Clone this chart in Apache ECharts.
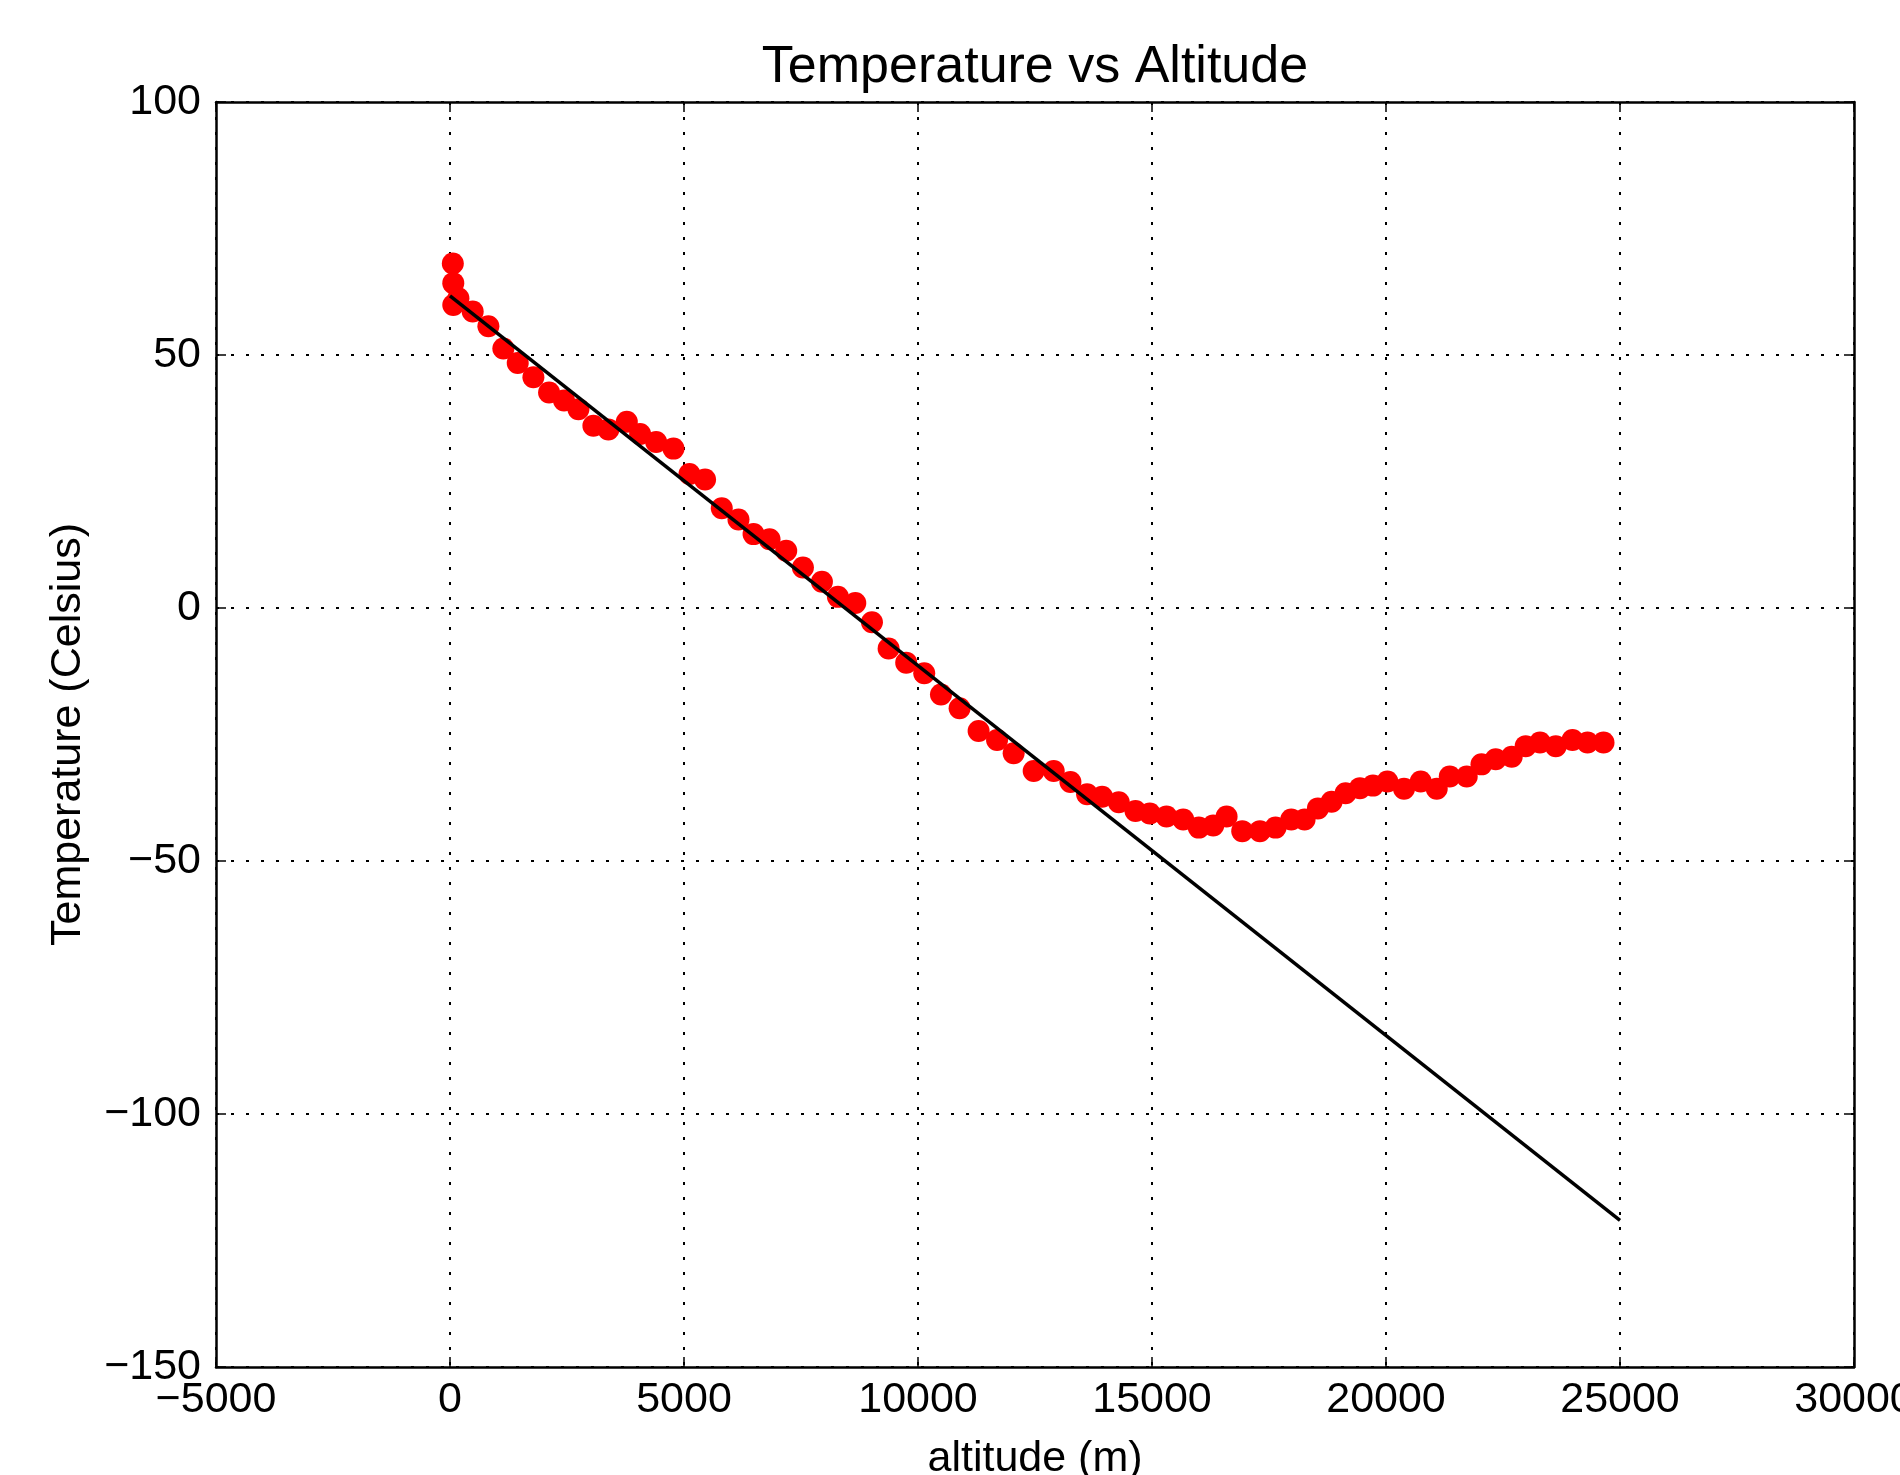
<!DOCTYPE html>
<html>
<head>
<meta charset="utf-8">
<title>Temperature vs Altitude</title>
<script src="https://cdn.jsdelivr.net/npm/echarts@6/dist/echarts.min.js"></script>
<style>
  html, body { margin: 0; padding: 0; background: #fff; }
  #chart { width: 1900px; height: 1475px; }
</style>
</head>
<body>
<div id="chart"></div>
<script>
// measured points (altitude in m, temperature in Celsius)
const altitude = [60, 70, 180, 70, 485, 820, 1140, 1447, 1782, 2117, 2437, 2744, 3064, 3384, 3778, 4062,
  4405, 4775, 5117, 5450, 5807, 6164, 6486, 6828, 7184, 7541, 7947, 8289, 8660, 9016, 9372, 9748,
  10133, 10491, 10889, 11295, 11689, 12044, 12472, 12900, 13257, 13613, 13934, 14290, 14647, 14953,
  15310, 15667, 16000, 16308, 16594, 16928, 17306, 17640, 17975, 18260, 18545, 18837, 19136, 19443,
  19721, 20029, 20385, 20742, 21084, 21362, 21725, 22040, 22344, 22686, 22985, 23291, 23628, 23985,
  24306, 24648]
const temperature = [68.1, 64.2, 61.2, 59.9, 58.6, 55.7, 51.3, 48.4, 45.6, 42.6, 41.0, 39.3, 36.0, 35.3, 36.8, 34.4,
  32.8, 31.5, 26.5, 25.4, 19.7, 17.5, 14.6, 13.6, 11.3, 8.0, 5.2, 2.2, 1.0, -2.8, -8.0, -10.8,
  -12.9, -17.1, -19.8, -24.3, -26.1, -28.7, -32.2, -32.2, -34.4, -36.8, -37.3, -38.4, -40.1, -40.6,
  -41.2, -41.8, -43.4, -43.0, -41.2, -44.1, -44.1, -43.4, -41.8, -41.8, -39.6, -38.3, -36.6, -35.6,
  -35.1, -34.3, -35.7, -34.3, -35.7, -33.3, -33.3, -30.9, -29.9, -29.4, -27.3, -26.6, -27.3, -26.1,
  -26.6, -26.6]
// linear fit endpoints
const fitX = [0, 25000]
const fitY = [61.7, -121]

const font = 'Liberation Sans, Arial, sans-serif'
const minus = v => String(v).replace('-', '\u2212')

let chart = echarts.init(document.getElementById('chart'))

let pts = altitude.map((a, i) => [a, temperature[i]])
let fit = fitX.map((a, i) => [a, fitY[i]])

let tickStyle = { show: true, inside: true, length: 10, lineStyle: { color: '#000', width: 1.5 } }
let gridLine = { show: true, lineStyle: { color: '#000', width: 2, type: [3, 12] } }
let axisLine = { show: true, onZero: false, lineStyle: { color: '#000', width: 2.5 } }

chart.setOption({
  animation: false,
  backgroundColor: '#fff',
  title: {
    text: 'Temperature vs Altitude',
    left: 1035,
    top: 42,
    padding: 0,
    textAlign: 'center',
    textStyle: { fontFamily: font, fontSize: 52, fontWeight: 'normal', color: '#000' }
  },
  grid: { left: 216, right: 46, top: 102, bottom: 108, containLabel: false, outerBoundsMode: 'none' },
  xAxis: [{
    type: 'value',
    min: -5000,
    max: 30000,
    interval: 5000,
    name: 'altitude (m)',
    nameLocation: 'middle',
    nameGap: 71,
    nameTextStyle: { fontFamily: font, fontSize: 43, color: '#000' },
    axisLine: axisLine,
    axisTick: tickStyle,
    splitLine: gridLine,
    axisLabel: { fontFamily: font, fontSize: 43, color: '#000', margin: 12, showMaxLabel: true, showMinLabel: true, formatter: minus }
  }, {
    type: 'value',
    position: 'top',
    min: -5000,
    max: 30000,
    interval: 5000,
    axisLine: axisLine,
    axisTick: tickStyle,
    splitLine: { show: false },
    axisLabel: { show: false }
  }],
  yAxis: [{
    type: 'value',
    min: -150,
    max: 100,
    interval: 50,
    name: 'Temperature (Celsius)',
    nameLocation: 'middle',
    nameGap: 126,
    nameTextStyle: { fontFamily: font, fontSize: 43, color: '#000' },
    axisLine: axisLine,
    axisTick: tickStyle,
    splitLine: gridLine,
    axisLabel: { fontFamily: font, fontSize: 43, color: '#000', margin: 15, formatter: minus }
  }, {
    type: 'value',
    position: 'right',
    min: -150,
    max: 100,
    interval: 50,
    axisLine: axisLine,
    axisTick: tickStyle,
    splitLine: { show: false },
    axisLabel: { show: false }
  }],
  series: [{
    name: 'measured',
    type: 'scatter',
    data: pts,
    symbol: 'circle',
    symbolSize: 22,
    itemStyle: { color: '#ff0000', opacity: 1 },
    z: 3
  }, {
    name: 'fit',
    type: 'line',
    data: fit,
    showSymbol: false,
    symbol: 'none',
    lineStyle: { color: '#000', width: 3.5 },
    z: 4
  }]
})
</script>
</body>
</html>
